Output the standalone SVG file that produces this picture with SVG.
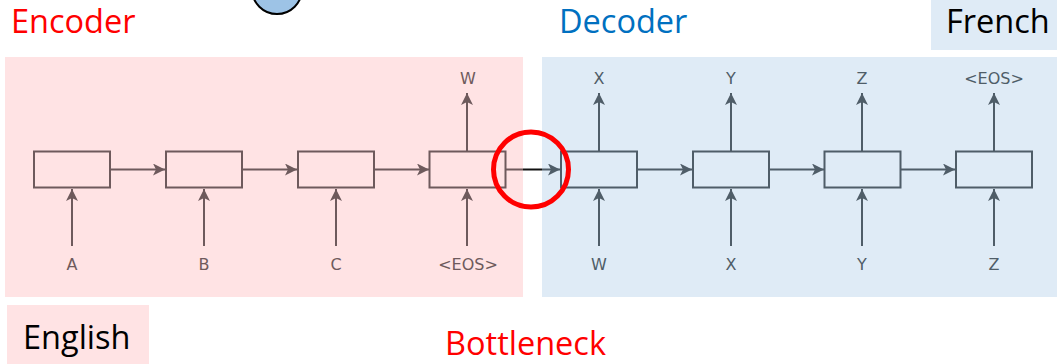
<svg xmlns="http://www.w3.org/2000/svg" width="1057" height="364" viewBox="0 0 1057 364">
<defs>
<style>
.title{font-family:"Open Sans","Liberation Sans",sans-serif;font-size:32.5px}
.lbl{font-family:"DejaVu Sans",sans-serif;font-size:16px;text-anchor:middle}
.enc rect{fill:none;stroke:#6e5a5c;stroke-width:2}
.dec rect{fill:none;stroke:#4f5d68;stroke-width:2}
.enc text{fill:#6e5a5c}
.dec text{fill:#4f5d68}
.ce{stroke:#6e5a5c;stroke-width:2;fill:none}
.cd{stroke:#4f5d68;stroke-width:2;fill:none}
</style>
<marker id="ae" viewBox="0 0 10 10" refX="10" refY="5" markerWidth="14" markerHeight="12" markerUnits="userSpaceOnUse" orient="auto"><path d="M0,0 L10,5 L0,10 L2.5,5 z" fill="#6e5a5c"/></marker>
<marker id="ad" viewBox="0 0 10 10" refX="10" refY="5" markerWidth="14" markerHeight="12" markerUnits="userSpaceOnUse" orient="auto"><path d="M0,0 L10,5 L0,10 L2.5,5 z" fill="#4f5d68"/></marker>
</defs>
<rect width="1057" height="364" fill="#ffffff"/>
<circle cx="277" cy="-11" r="25" fill="#9dc3e6" stroke="#000" stroke-width="2"/>
<rect x="5" y="57" width="518" height="240" fill="#ffe3e4"/>
<rect x="542" y="57" width="515" height="240" fill="#dfebf6"/>
<rect x="931" y="0" width="126" height="50" fill="#dfebf6"/>
<rect x="7" y="305" width="142" height="59" fill="#ffe3e4"/>
<text class="title" x="11" y="33" fill="#ff0000">Encoder</text>
<text class="title" x="559" y="33" fill="#0070c0">Decoder</text>
<text class="title" x="946" y="33" fill="#000">French</text>
<text class="title" x="23" y="349" fill="#000">English</text>
<text class="title" x="445" y="355" fill="#ff0000">Bottleneck</text>
<g id="connectors">
<line class="ce" x1="72" y1="246" x2="72" y2="189" marker-end="url(#ae)"/>
<line class="ce" x1="204" y1="246" x2="204" y2="189" marker-end="url(#ae)"/>
<line class="ce" x1="336" y1="246" x2="336" y2="189" marker-end="url(#ae)"/>
<line class="ce" x1="467" y1="246" x2="467" y2="189" marker-end="url(#ae)"/>
<line class="ce" x1="467" y1="151" x2="467" y2="93" marker-end="url(#ae)"/>
<line class="ce" x1="110" y1="169.5" x2="165" y2="169.5" marker-end="url(#ae)"/>
<line class="ce" x1="242" y1="169.5" x2="297" y2="169.5" marker-end="url(#ae)"/>
<line class="ce" x1="374" y1="169.5" x2="429" y2="169.5" marker-end="url(#ae)"/>
<line class="ce" x1="505" y1="169.5" x2="523" y2="169.5"/>
<line stroke="#111" stroke-width="2" x1="523" y1="169.5" x2="542" y2="169.5"/>
<line class="cd" x1="542" y1="169.5" x2="560" y2="169.5" marker-end="url(#ad)"/>
<line class="cd" x1="599" y1="246" x2="599" y2="189" marker-end="url(#ad)"/>
<line class="cd" x1="731" y1="246" x2="731" y2="189" marker-end="url(#ad)"/>
<line class="cd" x1="862" y1="246" x2="862" y2="189" marker-end="url(#ad)"/>
<line class="cd" x1="994" y1="246" x2="994" y2="189" marker-end="url(#ad)"/>
<line class="cd" x1="599" y1="151" x2="599" y2="93" marker-end="url(#ad)"/>
<line class="cd" x1="731" y1="151" x2="731" y2="93" marker-end="url(#ad)"/>
<line class="cd" x1="862" y1="151" x2="862" y2="93" marker-end="url(#ad)"/>
<line class="cd" x1="994" y1="151" x2="994" y2="93" marker-end="url(#ad)"/>
<line class="cd" x1="637" y1="169.5" x2="692" y2="169.5" marker-end="url(#ad)"/>
<line class="cd" x1="769" y1="169.5" x2="824" y2="169.5" marker-end="url(#ad)"/>
<line class="cd" x1="900" y1="169.5" x2="955" y2="169.5" marker-end="url(#ad)"/>
</g>
<g id="enc1" class="enc"><rect x="34" y="151.5" width="76" height="36"/><text class="lbl" x="72" y="270">A</text></g>
<g id="enc2" class="enc"><rect x="166" y="151.5" width="76" height="36"/><text class="lbl" x="204" y="270">B</text></g>
<g id="enc3" class="enc"><rect x="298" y="151.5" width="76" height="36"/><text class="lbl" x="336" y="270">C</text></g>
<g id="enc4" class="enc"><rect x="429.5" y="151.5" width="76" height="36"/><text class="lbl" x="468" y="270">&lt;EOS&gt;</text><text class="lbl" x="468" y="84">W</text></g>
<g id="dec1" class="dec"><rect x="561" y="151.5" width="76" height="36"/><text class="lbl" x="599" y="270">W</text><text class="lbl" x="599" y="84">X</text></g>
<g id="dec2" class="dec"><rect x="693" y="151.5" width="76" height="36"/><text class="lbl" x="731" y="270">X</text><text class="lbl" x="731" y="84">Y</text></g>
<g id="dec3" class="dec"><rect x="824.5" y="151.5" width="76" height="36"/><text class="lbl" x="862" y="270">Y</text><text class="lbl" x="862" y="84">Z</text></g>
<g id="dec4" class="dec"><rect x="956" y="151.5" width="76" height="36"/><text class="lbl" x="994" y="270">Z</text><text class="lbl" x="994" y="84">&lt;EOS&gt;</text></g>
<circle id="bottleneck-mark" cx="531" cy="169.5" r="37.5" fill="none" stroke="#ff0000" stroke-width="5"/>
</svg>
